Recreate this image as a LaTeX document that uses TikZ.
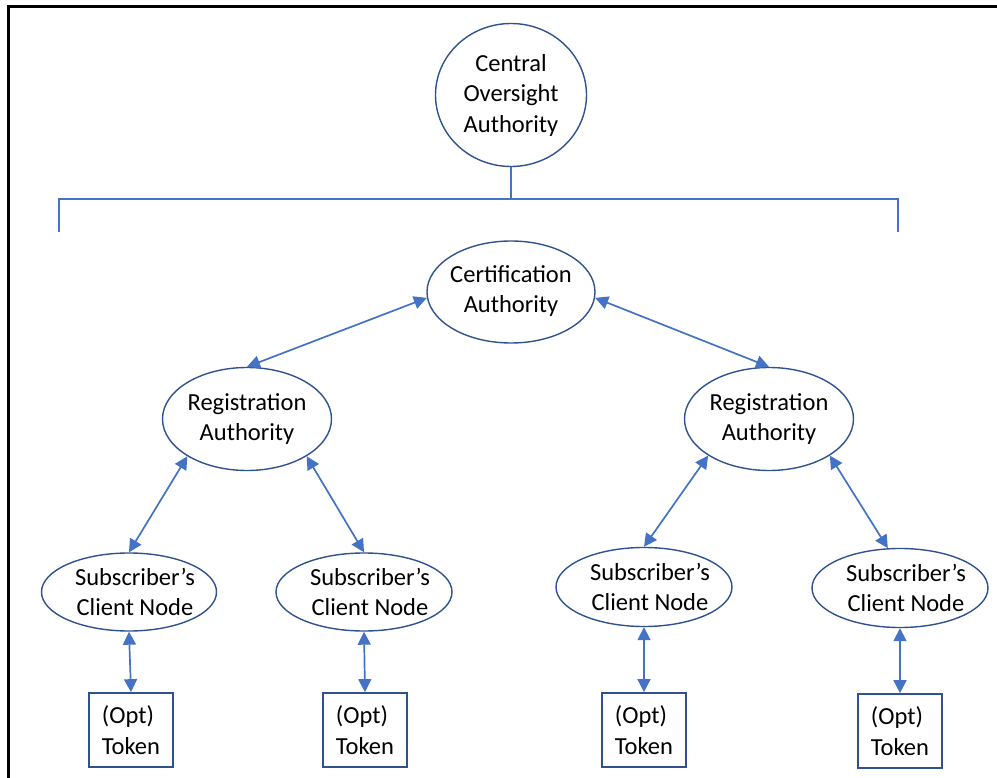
\documentclass[tikz,border=0pt]{standalone}
\usepackage{fontspec}
\setmainfont{Carlito}
\usetikzlibrary{shapes.geometric,arrows.meta}
\definecolor{rim}{HTML}{2F528F}
\definecolor{wire}{HTML}{4472C4}
\begin{document}
\begin{tikzpicture}[x=1pt,y=-1pt,
  font=\fontsize{24.5}{30.5}\selectfont,
  oval/.style={ellipse, draw=rim, line width=1.4pt, inner sep=0pt},
  txt/.style={align=center, inner sep=0pt},
  tokenbox/.style={rectangle, draw=rim, line width=1.7pt, minimum width=84pt,
    minimum height=74pt, align=left, inner sep=0pt},
  biarrow/.style={draw=wire, line width=1.7pt,
    {Triangle[length=13pt,width=13pt]}-{Triangle[length=13pt,width=13pt]}},
  bracket/.style={draw=wire, line width=1.5pt},
]
\useasboundingbox (0,0) rectangle (997,778);

% outer frame (top and left edges)
\draw[line width=2.5pt] (8.5,778) -- (8.5,6.7) -- (997,6.7);

% top of the hierarchy
\node[oval, minimum width=151, minimum height=143,
  label={[txt]center:Central\\Oversight\\Authority}] (coa) at (511,95) {};

% bracket below the oversight authority
\coordinate (hub) at (511,199);
\coordinate (bl) at (59,232);
\coordinate (br) at (898,232);
\draw[bracket] (coa.south) -- (hub);
\draw[bracket] (bl) |- (hub) -| (br);

% certification and registration authorities
\node[oval, minimum width=168, minimum height=102,
  label={[txt,yshift=1pt]center:Certification\\Authority}] (ca) at (511,292) {};
\node[oval, minimum width=169, minimum height=103,
  label={[txt]center:Registration\\Authority}] (ra1) at (247,419) {};
\node[oval, minimum width=169, minimum height=103,
  label={[txt]center:Registration\\Authority}] (ra2) at (769,419) {};

% subscriber client nodes
\node[oval, minimum width=175, minimum height=78,
  label={[txt,xshift=6pt]center:Subscriber’s\\Client Node}] (sub1) at (129,592) {};
\node[oval, minimum width=176, minimum height=78,
  label={[txt,xshift=6pt]center:Subscriber’s\\Client Node}] (sub2) at (364,592) {};
\node[oval, minimum width=176, minimum height=79,
  label={[txt,xshift=6pt]center:Subscriber’s\\Client Node}] (sub3) at (644,587) {};
\node[oval, minimum width=176, minimum height=79,
  label={[txt,xshift=6pt]center:Subscriber’s\\Client Node}] (sub4) at (900,588) {};

% optional tokens
\node[tokenbox] (tok1) at (131,730) {(Opt)\\Token};
\node[tokenbox] (tok2) at (365,730) {(Opt)\\Token};
\node[tokenbox] (tok3) at (644,730) {(Opt)\\Token};
\node[tokenbox] (tok4) at (900,731) {(Opt)\\Token};

% two-way links
\draw[biarrow] (ca.184) -- (ra1.north);
\draw[biarrow] (ca.356) -- (ra2.north);
\draw[biarrow] (ra1.212) -- (sub1.north);
\draw[biarrow] (ra1.328) -- (sub2.north);
\draw[biarrow] (ra2.211) -- (sub3.north);
\draw[biarrow] (ra2.329) -- (sub4.107);
\draw[biarrow] (sub1.south) -- (tok1.north);
\draw[biarrow] (sub2.south) -- (tok2.north);
\draw[biarrow] (sub3.south) -- (tok3.north);
\draw[biarrow] (sub4.south) -- (tok4.north);
\end{tikzpicture}
\end{document}
